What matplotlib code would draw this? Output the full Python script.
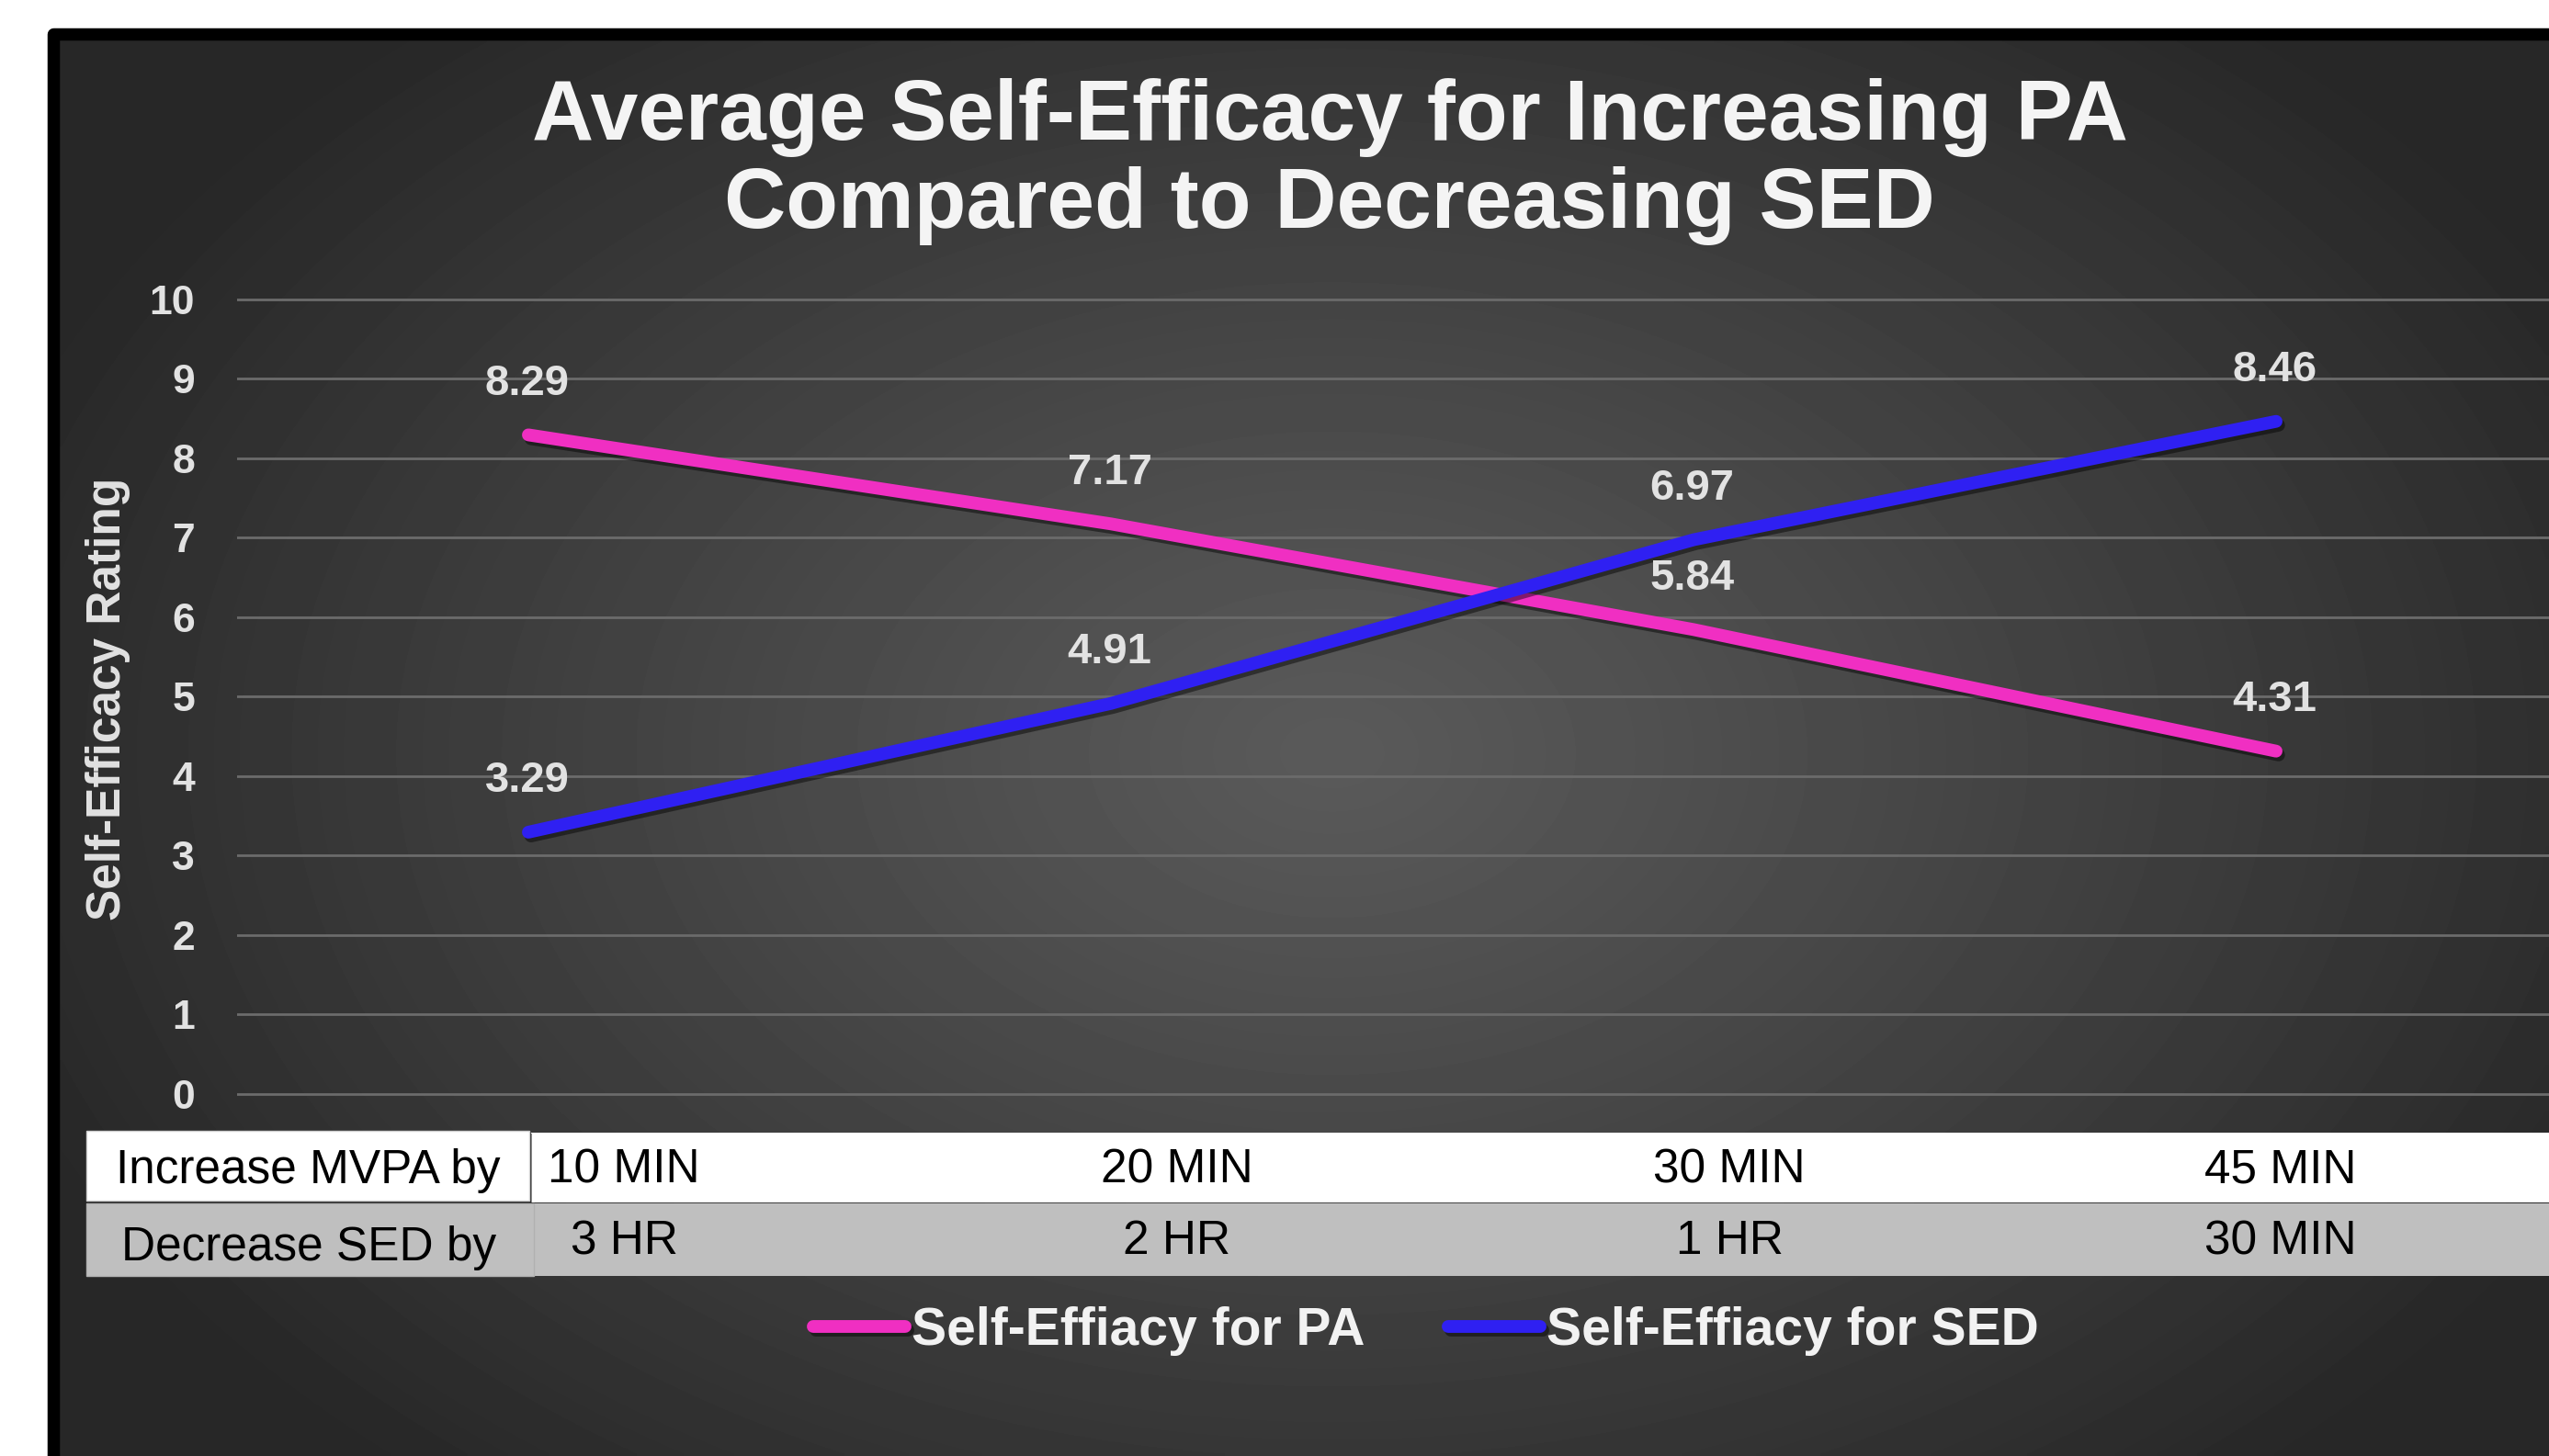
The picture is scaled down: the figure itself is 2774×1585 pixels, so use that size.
import numpy as np
import matplotlib.pyplot as plt
import matplotlib.patheffects as pe
from matplotlib.patches import Rectangle

W, H = 2774, 1585
DPI = 100

categories = ["10 MIN", "20 MIN", "30 MIN", "45 MIN"]
pa_values = [8.29, 7.17, 5.84, 4.31]
sed_values = [3.29, 4.91, 6.97, 8.46]
series_names = ["Self-Effiacy for PA", "Self-Effiacy for SED"]
row_labels = ["Increase MVPA by", "Decrease SED by"]
mvpa_row = ["10 MIN", "20 MIN", "30 MIN", "45 MIN"]
sed_row = ["3 HR", "2 HR", "1 HR", "30 MIN"]
y_ticks = list(range(0, 11))

PINK = "#f02fc2"
BLUE = "#2f20f2"
LIGHT = "#e2e2e2"

plt.rcParams["font.family"] = ["Liberation Sans", "DejaVu Sans"]

fig = plt.figure(figsize=(W / DPI, H / DPI), dpi=DPI, facecolor="white")


def fx(px):
    return px / W


def fy(py):
    return 1 - py / H


def box(x0, y0, x1, y1, color, **kw):
    r = Rectangle((fx(x0), fy(y1)), (x1 - x0) / W, (y1 - y0) / H,
                  transform=fig.transFigure, facecolor=color, **kw)
    fig.add_artist(r)
    return r


# dark radial background of the slide
bg = fig.add_axes([fx(64), 0, 1 - fx(64), fy(43)])
xs = np.linspace(64, W, 400)
ys = np.linspace(43, H, 300)
X, Y = np.meshgrid(xs, ys)
r = np.sqrt(((X - 1450) / 1550) ** 2 + ((Y - 820) / 1050) ** 2)
shade = 0x5a - (0x5a - 0x27) * np.clip(r, 0, 1) ** 1.1
bg.imshow(shade, cmap="gray", vmin=0, vmax=255, aspect="auto",
          extent=(64, W, H, 43), interpolation="bilinear")
bg.axis("off")

# black frame (goes past the right and bottom edges)
fig.add_artist(Rectangle((fx(58), -0.1), 1.2, fy(36.5) + 0.1,
                         transform=fig.transFigure, fill=False,
                         edgecolor="black", lw=13.5 * 0.72, joinstyle="round"))

# plot area
ax_bottom, ax_top = 1199.15, 316.85
ax = fig.add_axes([fx(258), fy(ax_bottom), (2794 - 258) / W, (ax_bottom - ax_top) / H])
ax.set_facecolor("none")

x = np.arange(len(categories))
shadow = [pe.SimpleLineShadow(offset=(2, -3), shadow_color="black", alpha=0.45), pe.Normal()]
ax.plot(x, pa_values, color=PINK, lw=10, solid_capstyle="round",
        label=series_names[0], path_effects=shadow)
ax.plot(x, sed_values, color=BLUE, lw=10, solid_capstyle="round",
        label=series_names[1], path_effects=shadow)

for values in (pa_values, sed_values):
    for xi, v in zip(x, values):
        ax.annotate(f"{v:.2f}", (xi, v), xytext=(-1, 40), textcoords="offset points",
                    ha="center", va="center", fontsize=34, fontweight="bold", color=LIGHT)

ax.set_xlim(-0.5, 3.5)
ax.set_ylim(-0.1, 10.1)
ax.set_yticks(y_ticks)
ax.set_xticks([])
ax.grid(axis="y", color="#6b6b6b", lw=2)
ax.set_axisbelow(True)
for s in ax.spines.values():
    s.set_visible(False)
ax.tick_params(axis="y", length=0, pad=33, labelsize=32, labelcolor=LIGHT)
for t in ax.get_yticklabels():
    t.set_fontweight("bold")

ax.set_ylabel("Self-Efficacy Rating", fontsize=37, fontweight="bold", color=LIGHT, va="center")
ax.yaxis.set_label_coords((117 - 258) / 2536, (ax_bottom - 761) / (ax_bottom - ax_top))

# title
fig.text(fx(1447), fy(152), "Average Self-Efficacy for Increasing PA", ha="center",
         va="baseline", fontsize=67, fontweight="bold", color="#f4f4f4")
fig.text(fx(1447), fy(248), "Compared to Decreasing SED", ha="center",
         va="baseline", fontsize=67, fontweight="bold", color="#f4f4f4")

# data table overlay
box(578, 1233, W + 5, 1309, "white", edgecolor="none")
box(94, 1310, W + 5, 1389, "#bfbfbf", edgecolor="none")
box(97, 1234, 579, 1310, "#1a1a1a", edgecolor="none", alpha=0.5)
box(94, 1231, 576, 1307, "white", edgecolor="#cfcfcf", lw=1)
box(94, 1310, 581, 1389, "#bfbfbf", edgecolor="#b0b0b0", lw=1)

fig.text(fx(335), fy(1288), row_labels[0], ha="center", va="baseline", fontsize=37, color="black")
fig.text(fx(336), fy(1372), row_labels[1], ha="center", va="baseline", fontsize=37, color="black")
col_centers = [679, 1281, 1882, 2482]
for cx, top, bottom in zip(col_centers, mvpa_row, sed_row):
    fig.text(fx(cx), fy(1288), top, ha="center", va="baseline", fontsize=37, color="black")
    fig.text(fx(cx), fy(1365), bottom, ha="center", va="baseline", fontsize=37, color="black")

# legend
fig.legend(loc="center", bbox_to_anchor=(fx(1552), fy(1449)), ncol=2, frameon=False,
           prop={"size": 41, "weight": "bold"}, labelcolor="#f2f2f2",
           handlelength=1.75, handletextpad=0.12, columnspacing=1.6)

fig.savefig("out.png", dpi=DPI, facecolor="white")
